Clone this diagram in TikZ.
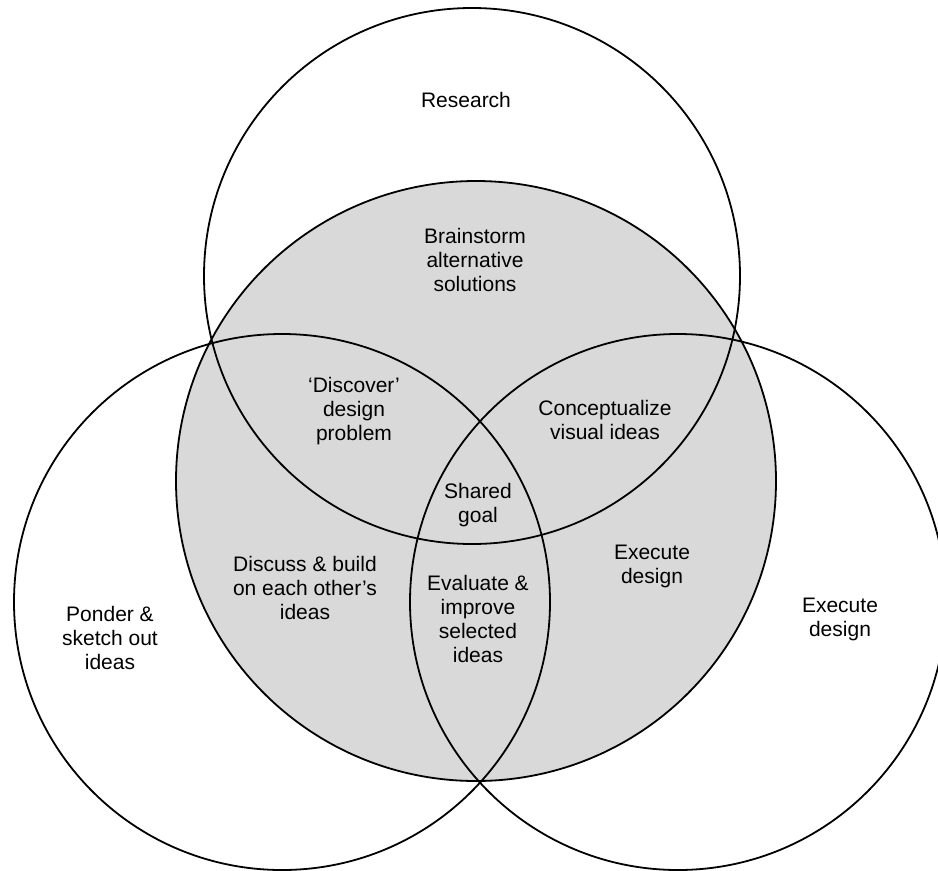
\documentclass[tikz,border=0pt]{standalone}
\usepackage{fontspec}
\setmainfont{Liberation Sans}
\definecolor{shade}{RGB}{217,217,217}
\begin{document}
\begin{tikzpicture}[x=1pt,y=-1pt,
  ring/.style={circle, draw=black, line width=1.8pt, inner sep=0pt, outer sep=0pt},
  lbl/.style={align=center, font=\fontsize{21}{24}\selectfont, inner sep=0pt}]
\clip (0,0) rectangle (938,871);
\fill[white] (0,0) rectangle (938,871);
\node[ring, fill=shade, minimum size=600pt] (core) at (476,481) {};
\node[ring, minimum size=536pt] (research) at (472,276) {};
\node[ring, minimum size=536pt] (ponder) at (282,602) {};
\node[ring, minimum size=536pt] (execute) at (678,602) {};
\node[lbl] (tResearch) at (466,100) {Research};
\node[lbl] (tBrain) at (475,260) {Brainstorm\\alternative\\solutions};
\node[lbl] (tDiscover) at (354,411) {‘Discover’\\design\\problem};
\node[lbl] (tConcept) at (605,420) {Conceptualize\\visual ideas};
\node[lbl] (tShared) at (478,505) {Shared\\goal};
\node[lbl] (tEval) at (478,619) {Evaluate \&\\improve\\selected\\ideas};
\node[lbl] (tDiscuss) at (305,588) {Discuss \& build\\on each other’s\\ideas};
\node[lbl] (tPonder) at (110,638) {Ponder \&\\sketch out\\ideas};
\node[lbl] (tExecIn) at (652,566) {Execute\\design};
\node[lbl] (tExecOut) at (840,619) {Execute\\design};
\end{tikzpicture}
\end{document}
